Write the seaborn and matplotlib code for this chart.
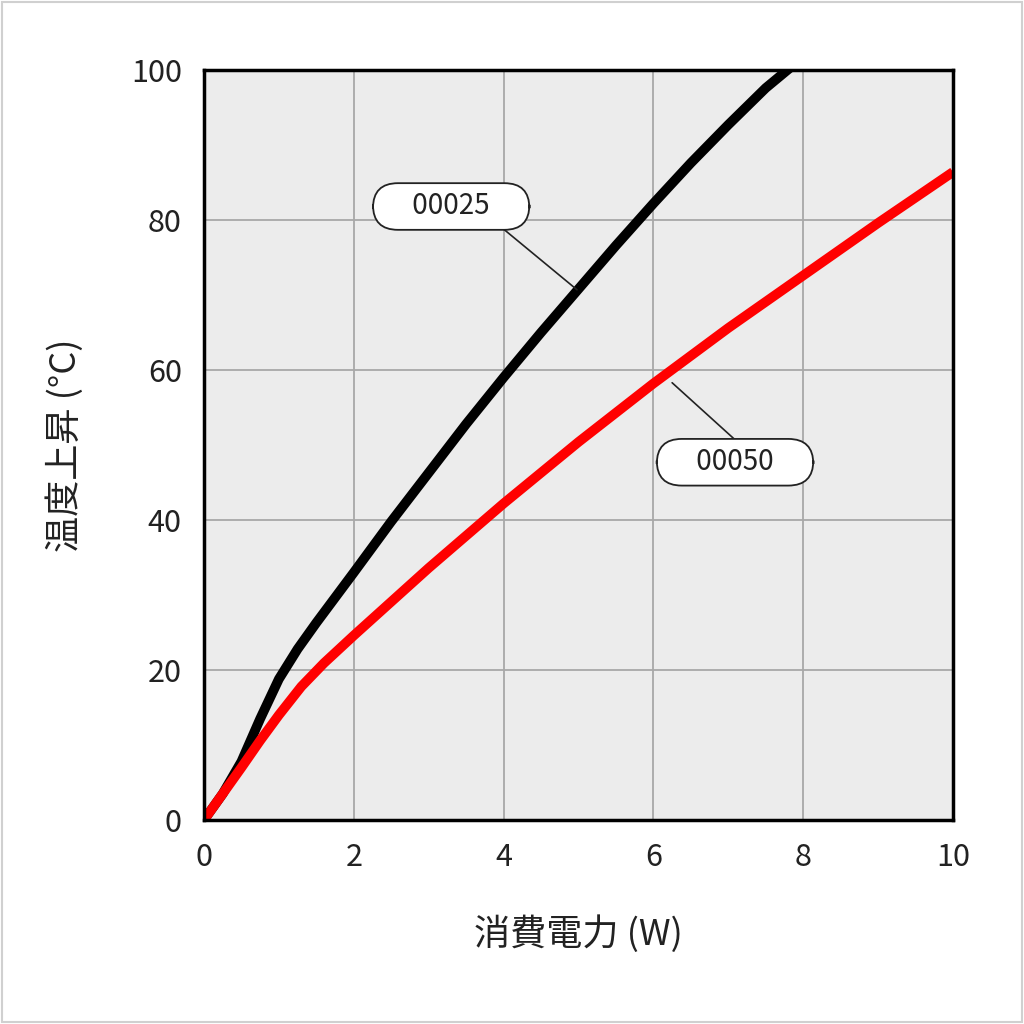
# temperature rise vs power dissipation chart
import matplotlib
matplotlib.use('Agg')
import matplotlib.pyplot as plt
import seaborn as sns
import pandas as pd

# data
power_025 = [0, 0.25, 0.5, 0.75, 1.0, 1.25, 1.5, 2.0, 2.5, 3.0, 3.5, 4.0, 4.5, 5.0, 5.5, 6.0, 6.5, 7.0, 7.5, 7.85]
temp_025 = [0, 3.5, 7.8, 13.5, 18.8, 22.8, 26.3, 33.0, 39.8, 46.3, 52.8, 59.0, 65.0, 70.8, 76.6, 82.2, 87.6, 92.7, 97.6, 100.5]
power_050 = [0, 0.25, 0.5, 0.75, 1.0, 1.3, 1.6, 2.0, 3.0, 4.0, 5.0, 6.0, 7.0, 8.0, 9.0, 10.0]
temp_050 = [0, 3.5, 7.0, 10.6, 14.0, 17.8, 20.9, 24.6, 33.6, 42.2, 50.4, 58.2, 65.6, 72.6, 79.6, 86.4]

df = pd.concat([
    pd.DataFrame({'power': power_025, 'temp': temp_025, 'model': '00025'}),
    pd.DataFrame({'power': power_050, 'temp': temp_050, 'model': '00050'}),
])

sns.set_style('whitegrid')
plt.rcParams['font.family'] = ['Noto Sans CJK JP', 'DejaVu Sans']

fig = plt.figure(figsize=(10.24, 10.24), dpi=100)
ax = fig.add_axes([204/1024, 1 - 820/1024, 749/1024, 750/1024])
ax.set_facecolor('#ececec')

sns.lineplot(data=df, x='power', y='temp', hue='model', palette={'00025': 'black', '00050': '#ff0000'},
             linewidth=7, legend=False, ax=ax, sort=False, solid_capstyle='butt')

ax.set_xlim(0, 10)
ax.set_ylim(0, 100)
ax.set_xticks(range(0, 11, 2))
ax.set_yticks(range(0, 101, 20))
ax.grid(True, color='#a8a8a8', linewidth=1.3)
for s in ax.spines.values():
    s.set_color('black')
    s.set_linewidth(2.5)
ax.tick_params(labelsize=22, length=0, pad=16, colors='#222222')
ax.set_xlabel('消費電力 (W)', fontsize=26, labelpad=30, color='#222222')
ax.set_ylabel('温度上昇 (°C)', fontsize=26, labelpad=34, color='#222222')

# callout labels with leader lines
box = dict(boxstyle='round,pad=0.3,rounding_size=0.9', fc='white', ec='#222222', lw=1.3)
ax.plot([4.01, 4.98], [78.7, 70.7], color='#222222', lw=1.2)
ax.text(3.3, 81.8, '     00025     ', fontsize=20, ha='center', va='center', bbox=box, color='#222222')
ax.plot([6.25, 7.09], [58.3, 50.7], color='#222222', lw=1.2)
ax.text(7.09, 47.7, '     00050     ', fontsize=20, ha='center', va='center', bbox=box, color='#222222')

# light frame around the figure
fig.patches.append(plt.Rectangle((0.002, 0.002), 0.996, 0.996, transform=fig.transFigure,
                                 fill=False, ec='#d0d0d0', lw=1.5))
fig.savefig('out.png', dpi=100)
